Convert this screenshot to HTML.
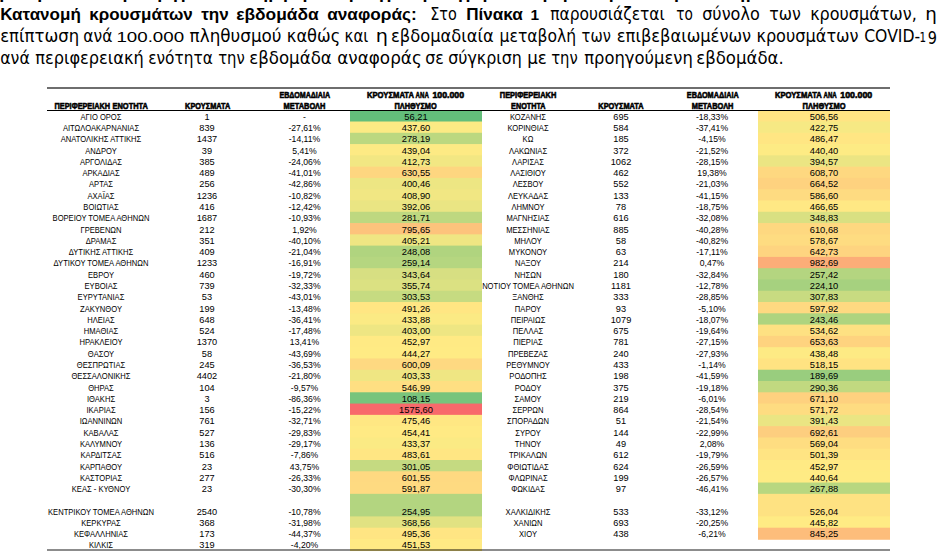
<!DOCTYPE html><html><head><meta charset="utf-8"><style>html,body{margin:0;padding:0;background:#fff;width:950px;height:555px;overflow:hidden}svg{display:block}.p{font-family:"DejaVu Sans","Liberation Sans",sans-serif;font-size:17px;fill:#000}.pb{font-family:"Liberation Sans","DejaVu Sans",sans-serif;font-weight:bold;font-size:17px;fill:#000}.c{font-family:"Liberation Sans",sans-serif;font-size:8.4px;fill:#000;text-anchor:middle}.h{font-family:"Liberation Sans",sans-serif;font-weight:bold;font-size:9.1px;fill:#000;stroke:#000;stroke-width:0.6px}</style></head><body>
<svg width="950" height="555" viewBox="0 0 950 555">
<text class="pb" x="0.20" y="20" textLength="80.60" lengthAdjust="spacingAndGlyphs">Κατανομή</text>
<text class="pb" x="89.20" y="20" textLength="103.60" lengthAdjust="spacingAndGlyphs">κρουσμάτων</text>
<text class="pb" x="201.20" y="20" textLength="27.60" lengthAdjust="spacingAndGlyphs">την</text>
<text class="pb" x="236.20" y="20" textLength="82.60" lengthAdjust="spacingAndGlyphs">εβδομάδα</text>
<text class="pb" x="327.20" y="20" textLength="89.60" lengthAdjust="spacingAndGlyphs">αναφοράς:</text>
<text class="p" x="430.20" y="20" textLength="26.60" lengthAdjust="spacingAndGlyphs">Στο</text>
<text class="pb" x="466.20" y="20" textLength="56.60" lengthAdjust="spacingAndGlyphs">Πίνακα</text>
<text class="pb" style="font-size:14px;font-family:'Liberation Sans',sans-serif" x="530.50" y="20" textLength="8.60" lengthAdjust="spacingAndGlyphs">1</text>
<text class="p" x="550.20" y="20" textLength="114.60" lengthAdjust="spacingAndGlyphs">παρουσιάζεται</text>
<text class="p" x="676.20" y="20" textLength="16.60" lengthAdjust="spacingAndGlyphs">το</text>
<text class="p" x="702.20" y="20" textLength="57.60" lengthAdjust="spacingAndGlyphs">σύνολο</text>
<text class="p" x="769.20" y="20" textLength="31.60" lengthAdjust="spacingAndGlyphs">των</text>
<text class="p" x="810.20" y="20" textLength="106.60" lengthAdjust="spacingAndGlyphs">κρουσμάτων,</text>
<text class="p" x="925.20" y="20" textLength="11.60" lengthAdjust="spacingAndGlyphs">η</text>
<text class="p" x="0.20" y="41.6" textLength="79.00" lengthAdjust="spacingAndGlyphs">επίπτωση</text>
<text class="p" x="83.20" y="41.6" textLength="29.20" lengthAdjust="spacingAndGlyphs">ανά</text>
<text class="p" style="font-size:14px;font-family:'Liberation Sans',sans-serif" x="116.40" y="41.6" textLength="67.70" lengthAdjust="spacingAndGlyphs">100.000</text>
<text class="p" x="189.60" y="41.6" textLength="92.00" lengthAdjust="spacingAndGlyphs">πληθυσμού</text>
<text class="p" x="286.80" y="41.6" textLength="53.40" lengthAdjust="spacingAndGlyphs">καθώς</text>
<text class="p" x="344.60" y="41.6" textLength="23.80" lengthAdjust="spacingAndGlyphs">και</text>
<text class="p" x="375.80" y="41.6" textLength="12.20" lengthAdjust="spacingAndGlyphs">η</text>
<text class="p" x="391.00" y="41.6" textLength="102.80" lengthAdjust="spacingAndGlyphs">εβδομαδιαία</text>
<text class="p" x="499.60" y="41.6" textLength="76.60" lengthAdjust="spacingAndGlyphs">μεταβολή</text>
<text class="p" x="581.60" y="41.6" textLength="29.20" lengthAdjust="spacingAndGlyphs">των</text>
<text class="p" x="616.80" y="41.6" textLength="134.40" lengthAdjust="spacingAndGlyphs">επιβεβαιωμένων</text>
<text class="p" x="756.40" y="41.6" textLength="102.20" lengthAdjust="spacingAndGlyphs">κρουσμάτων</text>
<text class="p" x="864.20" y="41.6" textLength="56.00" lengthAdjust="spacingAndGlyphs">COVID-</text>
<text class="p" x="0.20" y="63.6" textLength="29.60" lengthAdjust="spacingAndGlyphs">ανά</text>
<text class="p" x="35.20" y="63.6" textLength="108.60" lengthAdjust="spacingAndGlyphs">περιφερειακή</text>
<text class="p" x="148.20" y="63.6" textLength="64.60" lengthAdjust="spacingAndGlyphs">ενότητα</text>
<text class="p" x="218.20" y="63.6" textLength="26.60" lengthAdjust="spacingAndGlyphs">την</text>
<text class="p" x="249.20" y="63.6" textLength="82.60" lengthAdjust="spacingAndGlyphs">εβδομάδα</text>
<text class="p" x="337.20" y="63.6" textLength="84.60" lengthAdjust="spacingAndGlyphs">αναφοράς</text>
<text class="p" x="425.20" y="63.6" textLength="18.60" lengthAdjust="spacingAndGlyphs">σε</text>
<text class="p" x="448.20" y="63.6" textLength="73.60" lengthAdjust="spacingAndGlyphs">σύγκριση</text>
<text class="p" x="527.20" y="63.6" textLength="19.60" lengthAdjust="spacingAndGlyphs">με</text>
<text class="p" x="551.20" y="63.6" textLength="26.60" lengthAdjust="spacingAndGlyphs">την</text>
<text class="p" x="584.20" y="63.6" textLength="108.60" lengthAdjust="spacingAndGlyphs">προηγούμενη</text>
<text class="p" x="696.20" y="63.6" textLength="87.60" lengthAdjust="spacingAndGlyphs">εβδομάδα.</text>
<text class="p" style="font-size:13.7px" x="919.6" y="41.6" textLength="6.6" lengthAdjust="spacingAndGlyphs">1</text>
<text class="p" x="927.8" y="43.6" textLength="9.2" lengthAdjust="spacingAndGlyphs">9</text>
<rect x="350" y="110.00" width="132" height="12.30" fill="#63be7b"/>
<rect x="350" y="121.50" width="132" height="12.08" fill="#fcea84"/>
<rect x="350" y="132.78" width="132" height="12.08" fill="#bcd880"/>
<rect x="350" y="144.07" width="132" height="12.08" fill="#fdea84"/>
<rect x="350" y="155.35" width="132" height="12.08" fill="#f2e783"/>
<rect x="350" y="166.63" width="132" height="12.08" fill="#fed680"/>
<rect x="350" y="177.91" width="132" height="12.08" fill="#ede683"/>
<rect x="350" y="189.20" width="132" height="12.08" fill="#f1e783"/>
<rect x="350" y="200.48" width="132" height="12.08" fill="#eae583"/>
<rect x="350" y="211.76" width="132" height="12.08" fill="#bed880"/>
<rect x="350" y="223.05" width="132" height="12.08" fill="#fdc37c"/>
<rect x="350" y="234.33" width="132" height="12.08" fill="#efe683"/>
<rect x="350" y="245.61" width="132" height="12.08" fill="#b0d47f"/>
<rect x="350" y="256.90" width="132" height="12.08" fill="#b5d680"/>
<rect x="350" y="268.18" width="132" height="12.08" fill="#d7df82"/>
<rect x="350" y="279.46" width="132" height="12.08" fill="#dbe182"/>
<rect x="350" y="290.75" width="132" height="12.08" fill="#c6db81"/>
<rect x="350" y="302.03" width="132" height="12.08" fill="#ffe683"/>
<rect x="350" y="313.31" width="132" height="12.08" fill="#fbea84"/>
<rect x="350" y="324.59" width="132" height="12.08" fill="#eee683"/>
<rect x="350" y="335.88" width="132" height="12.08" fill="#ffea84"/>
<rect x="350" y="347.16" width="132" height="12.08" fill="#ffeb84"/>
<rect x="350" y="358.44" width="132" height="12.08" fill="#fed981"/>
<rect x="350" y="369.73" width="132" height="12.08" fill="#efe683"/>
<rect x="350" y="381.01" width="132" height="12.08" fill="#fedf82"/>
<rect x="350" y="392.29" width="132" height="12.08" fill="#78c47c"/>
<rect x="350" y="403.57" width="132" height="12.08" fill="#f8696b"/>
<rect x="350" y="414.86" width="132" height="12.08" fill="#ffe783"/>
<rect x="350" y="426.14" width="132" height="12.08" fill="#ffea84"/>
<rect x="350" y="437.42" width="132" height="12.08" fill="#fbea84"/>
<rect x="350" y="448.71" width="132" height="12.08" fill="#ffe683"/>
<rect x="350" y="459.99" width="132" height="12.08" fill="#c5da81"/>
<rect x="350" y="471.27" width="132" height="12.08" fill="#fed981"/>
<rect x="350" y="482.56" width="132" height="12.08" fill="#feda81"/>
<rect x="350" y="493.84" width="132" height="23.37" fill="#b3d580"/>
<rect x="350" y="516.40" width="132" height="12.08" fill="#e1e282"/>
<rect x="350" y="527.69" width="132" height="12.08" fill="#ffe583"/>
<rect x="350" y="538.97" width="132" height="12.08" fill="#ffea84"/>
<rect x="758" y="110.00" width="132" height="12.30" fill="#ffe483"/>
<rect x="758" y="121.50" width="132" height="12.08" fill="#f6e984"/>
<rect x="758" y="132.78" width="132" height="12.08" fill="#ffe683"/>
<rect x="758" y="144.07" width="132" height="12.08" fill="#fdeb84"/>
<rect x="758" y="155.35" width="132" height="12.08" fill="#ebe583"/>
<rect x="758" y="166.63" width="132" height="12.08" fill="#fed880"/>
<rect x="758" y="177.91" width="132" height="12.08" fill="#fed27f"/>
<rect x="758" y="189.20" width="132" height="12.08" fill="#fedb81"/>
<rect x="758" y="200.48" width="132" height="12.08" fill="#ffe884"/>
<rect x="758" y="211.76" width="132" height="12.08" fill="#d9e082"/>
<rect x="758" y="223.05" width="132" height="12.08" fill="#fed880"/>
<rect x="758" y="234.33" width="132" height="12.08" fill="#fedc81"/>
<rect x="758" y="245.61" width="132" height="12.08" fill="#fed480"/>
<rect x="758" y="256.90" width="132" height="12.08" fill="#fcad78"/>
<rect x="758" y="268.18" width="132" height="12.08" fill="#b4d580"/>
<rect x="758" y="279.46" width="132" height="12.08" fill="#a6d17f"/>
<rect x="758" y="290.75" width="132" height="12.08" fill="#c8db81"/>
<rect x="758" y="302.03" width="132" height="12.08" fill="#fed981"/>
<rect x="758" y="313.31" width="132" height="12.08" fill="#aed47f"/>
<rect x="758" y="324.59" width="132" height="12.08" fill="#fee182"/>
<rect x="758" y="335.88" width="132" height="12.08" fill="#fed37f"/>
<rect x="758" y="347.16" width="132" height="12.08" fill="#fdea84"/>
<rect x="758" y="358.44" width="132" height="12.08" fill="#ffe382"/>
<rect x="758" y="369.73" width="132" height="12.08" fill="#99cd7e"/>
<rect x="758" y="381.01" width="132" height="12.08" fill="#c1d980"/>
<rect x="758" y="392.29" width="132" height="12.08" fill="#fed17f"/>
<rect x="758" y="403.57" width="132" height="12.08" fill="#fedc81"/>
<rect x="758" y="414.86" width="132" height="12.08" fill="#eae583"/>
<rect x="758" y="426.14" width="132" height="12.08" fill="#fdce7f"/>
<rect x="758" y="437.42" width="132" height="12.08" fill="#fedd81"/>
<rect x="758" y="448.71" width="132" height="12.08" fill="#ffe483"/>
<rect x="758" y="459.99" width="132" height="12.08" fill="#ffea84"/>
<rect x="758" y="471.27" width="132" height="12.08" fill="#feeb84"/>
<rect x="758" y="482.56" width="132" height="12.08" fill="#b8d780"/>
<rect x="758" y="493.84" width="132" height="23.37" fill="#fee282"/>
<rect x="758" y="516.40" width="132" height="12.08" fill="#ffeb84"/>
<rect x="758" y="527.69" width="132" height="12.08" fill="#fdbd7b"/>
<text class="c" transform="scale(0.905,1)" x="111.60" y="120.00">ΑΓΙΟ ΟΡΟΣ</text>
<text class="c" transform="scale(1.1,1)" x="188.18" y="120.00">1</text>
<text class="c" transform="scale(1.03,1)" x="295.63" y="120.00">-</text>
<text class="c" transform="scale(1.115,1)" x="373.09" y="120.00">56,21</text>
<text class="c" transform="scale(0.905,1)" x="111.60" y="131.00">ΑΙΤΩΛΟΑΚΑΡΝΑΝΙΑΣ</text>
<text class="c" transform="scale(1.1,1)" x="188.18" y="131.00">839</text>
<text class="c" transform="scale(1.03,1)" x="295.63" y="131.00">-27,61%</text>
<text class="c" transform="scale(1.115,1)" x="373.09" y="131.00">437,60</text>
<text class="c" transform="scale(0.905,1)" x="111.60" y="142.00">ΑΝΑΤΟΛΙΚΗΣ ΑΤΤΙΚΗΣ</text>
<text class="c" transform="scale(1.1,1)" x="188.18" y="142.00">1437</text>
<text class="c" transform="scale(1.03,1)" x="295.63" y="142.00">-14,11%</text>
<text class="c" transform="scale(1.115,1)" x="373.09" y="142.00">278,19</text>
<text class="c" transform="scale(0.905,1)" x="111.60" y="154.00">ΑΝΔΡΟΥ</text>
<text class="c" transform="scale(1.1,1)" x="188.18" y="154.00">39</text>
<text class="c" transform="scale(1.03,1)" x="295.63" y="154.00">5,41%</text>
<text class="c" transform="scale(1.115,1)" x="373.09" y="154.00">439,04</text>
<text class="c" transform="scale(0.905,1)" x="111.60" y="165.00">ΑΡΓΟΛΙΔΑΣ</text>
<text class="c" transform="scale(1.1,1)" x="188.18" y="165.00">385</text>
<text class="c" transform="scale(1.03,1)" x="295.63" y="165.00">-24,06%</text>
<text class="c" transform="scale(1.115,1)" x="373.09" y="165.00">412,73</text>
<text class="c" transform="scale(0.905,1)" x="111.60" y="176.00">ΑΡΚΑΔΙΑΣ</text>
<text class="c" transform="scale(1.1,1)" x="188.18" y="176.00">489</text>
<text class="c" transform="scale(1.03,1)" x="295.63" y="176.00">-41,01%</text>
<text class="c" transform="scale(1.115,1)" x="373.09" y="176.00">630,55</text>
<text class="c" transform="scale(0.905,1)" x="111.60" y="187.00">ΑΡΤΑΣ</text>
<text class="c" transform="scale(1.1,1)" x="188.18" y="187.00">256</text>
<text class="c" transform="scale(1.03,1)" x="295.63" y="187.00">-42,86%</text>
<text class="c" transform="scale(1.115,1)" x="373.09" y="187.00">400,46</text>
<text class="c" transform="scale(0.905,1)" x="111.60" y="199.00">ΑΧΑΪΑΣ</text>
<text class="c" transform="scale(1.1,1)" x="188.18" y="199.00">1236</text>
<text class="c" transform="scale(1.03,1)" x="295.63" y="199.00">-10,82%</text>
<text class="c" transform="scale(1.115,1)" x="373.09" y="199.00">408,90</text>
<text class="c" transform="scale(0.905,1)" x="111.60" y="210.00">ΒΟΙΩΤΙΑΣ</text>
<text class="c" transform="scale(1.1,1)" x="188.18" y="210.00">416</text>
<text class="c" transform="scale(1.03,1)" x="295.63" y="210.00">-12,42%</text>
<text class="c" transform="scale(1.115,1)" x="373.09" y="210.00">392,06</text>
<text class="c" transform="scale(0.905,1)" x="111.60" y="221.00">ΒΟΡΕΙΟΥ ΤΟΜΕΑ ΑΘΗΝΩΝ</text>
<text class="c" transform="scale(1.1,1)" x="188.18" y="221.00">1687</text>
<text class="c" transform="scale(1.03,1)" x="295.63" y="221.00">-10,93%</text>
<text class="c" transform="scale(1.115,1)" x="373.09" y="221.00">281,71</text>
<text class="c" transform="scale(0.905,1)" x="111.60" y="233.00">ΓΡΕΒΕΝΩΝ</text>
<text class="c" transform="scale(1.1,1)" x="188.18" y="233.00">212</text>
<text class="c" transform="scale(1.03,1)" x="295.63" y="233.00">1,92%</text>
<text class="c" transform="scale(1.115,1)" x="373.09" y="233.00">795,65</text>
<text class="c" transform="scale(0.905,1)" x="111.60" y="244.00">ΔΡΑΜΑΣ</text>
<text class="c" transform="scale(1.1,1)" x="188.18" y="244.00">351</text>
<text class="c" transform="scale(1.03,1)" x="295.63" y="244.00">-40,10%</text>
<text class="c" transform="scale(1.115,1)" x="373.09" y="244.00">405,21</text>
<text class="c" transform="scale(0.905,1)" x="111.60" y="255.00">ΔΥΤΙΚΗΣ ΑΤΤΙΚΗΣ</text>
<text class="c" transform="scale(1.1,1)" x="188.18" y="255.00">409</text>
<text class="c" transform="scale(1.03,1)" x="295.63" y="255.00">-21,04%</text>
<text class="c" transform="scale(1.115,1)" x="373.09" y="255.00">248,08</text>
<text class="c" transform="scale(0.905,1)" x="111.60" y="266.00">ΔΥΤΙΚΟΥ ΤΟΜΕΑ ΑΘΗΝΩΝ</text>
<text class="c" transform="scale(1.1,1)" x="188.18" y="266.00">1233</text>
<text class="c" transform="scale(1.03,1)" x="295.63" y="266.00">-16,91%</text>
<text class="c" transform="scale(1.115,1)" x="373.09" y="266.00">259,14</text>
<text class="c" transform="scale(0.905,1)" x="111.60" y="278.00">ΕΒΡΟΥ</text>
<text class="c" transform="scale(1.1,1)" x="188.18" y="278.00">460</text>
<text class="c" transform="scale(1.03,1)" x="295.63" y="278.00">-19,72%</text>
<text class="c" transform="scale(1.115,1)" x="373.09" y="278.00">343,64</text>
<text class="c" transform="scale(0.905,1)" x="111.60" y="289.00">ΕΥΒΟΙΑΣ</text>
<text class="c" transform="scale(1.1,1)" x="188.18" y="289.00">739</text>
<text class="c" transform="scale(1.03,1)" x="295.63" y="289.00">-32,33%</text>
<text class="c" transform="scale(1.115,1)" x="373.09" y="289.00">355,74</text>
<text class="c" transform="scale(0.905,1)" x="111.60" y="300.00">ΕΥΡΥΤΑΝΙΑΣ</text>
<text class="c" transform="scale(1.1,1)" x="188.18" y="300.00">53</text>
<text class="c" transform="scale(1.03,1)" x="295.63" y="300.00">-43,01%</text>
<text class="c" transform="scale(1.115,1)" x="373.09" y="300.00">303,53</text>
<text class="c" transform="scale(0.905,1)" x="111.60" y="312.00">ΖΑΚΥΝΘΟΥ</text>
<text class="c" transform="scale(1.1,1)" x="188.18" y="312.00">199</text>
<text class="c" transform="scale(1.03,1)" x="295.63" y="312.00">-13,48%</text>
<text class="c" transform="scale(1.115,1)" x="373.09" y="312.00">491,26</text>
<text class="c" transform="scale(0.905,1)" x="111.60" y="323.00">ΗΛΕΙΑΣ</text>
<text class="c" transform="scale(1.1,1)" x="188.18" y="323.00">648</text>
<text class="c" transform="scale(1.03,1)" x="295.63" y="323.00">-36,41%</text>
<text class="c" transform="scale(1.115,1)" x="373.09" y="323.00">433,88</text>
<text class="c" transform="scale(0.905,1)" x="111.60" y="334.00">ΗΜΑΘΙΑΣ</text>
<text class="c" transform="scale(1.1,1)" x="188.18" y="334.00">524</text>
<text class="c" transform="scale(1.03,1)" x="295.63" y="334.00">-17,48%</text>
<text class="c" transform="scale(1.115,1)" x="373.09" y="334.00">403,00</text>
<text class="c" transform="scale(0.905,1)" x="111.60" y="345.00">ΗΡΑΚΛΕΙΟΥ</text>
<text class="c" transform="scale(1.1,1)" x="188.18" y="345.00">1370</text>
<text class="c" transform="scale(1.03,1)" x="295.63" y="345.00">13,41%</text>
<text class="c" transform="scale(1.115,1)" x="373.09" y="345.00">452,97</text>
<text class="c" transform="scale(0.905,1)" x="111.60" y="357.00">ΘΑΣΟΥ</text>
<text class="c" transform="scale(1.1,1)" x="188.18" y="357.00">58</text>
<text class="c" transform="scale(1.03,1)" x="295.63" y="357.00">-43,69%</text>
<text class="c" transform="scale(1.115,1)" x="373.09" y="357.00">444,27</text>
<text class="c" transform="scale(0.905,1)" x="111.60" y="368.00">ΘΕΣΠΡΩΤΙΑΣ</text>
<text class="c" transform="scale(1.1,1)" x="188.18" y="368.00">245</text>
<text class="c" transform="scale(1.03,1)" x="295.63" y="368.00">-36,53%</text>
<text class="c" transform="scale(1.115,1)" x="373.09" y="368.00">600,09</text>
<text class="c" transform="scale(0.905,1)" x="111.60" y="379.00">ΘΕΣΣΑΛΟΝΙΚΗΣ</text>
<text class="c" transform="scale(1.1,1)" x="188.18" y="379.00">4402</text>
<text class="c" transform="scale(1.03,1)" x="295.63" y="379.00">-21,80%</text>
<text class="c" transform="scale(1.115,1)" x="373.09" y="379.00">403,33</text>
<text class="c" transform="scale(0.905,1)" x="111.60" y="391.00">ΘΗΡΑΣ</text>
<text class="c" transform="scale(1.1,1)" x="188.18" y="391.00">104</text>
<text class="c" transform="scale(1.03,1)" x="295.63" y="391.00">-9,57%</text>
<text class="c" transform="scale(1.115,1)" x="373.09" y="391.00">546,99</text>
<text class="c" transform="scale(0.905,1)" x="111.60" y="402.00">ΙΘΑΚΗΣ</text>
<text class="c" transform="scale(1.1,1)" x="188.18" y="402.00">3</text>
<text class="c" transform="scale(1.03,1)" x="295.63" y="402.00">-86,36%</text>
<text class="c" transform="scale(1.115,1)" x="373.09" y="402.00">108,15</text>
<text class="c" transform="scale(0.905,1)" x="111.60" y="413.00">ΙΚΑΡΙΑΣ</text>
<text class="c" transform="scale(1.1,1)" x="188.18" y="413.00">156</text>
<text class="c" transform="scale(1.03,1)" x="295.63" y="413.00">-15,22%</text>
<text class="c" transform="scale(1.115,1)" x="373.09" y="413.00">1575,60</text>
<text class="c" transform="scale(0.905,1)" x="111.60" y="424.00">ΙΩΑΝΝΙΝΩΝ</text>
<text class="c" transform="scale(1.1,1)" x="188.18" y="424.00">761</text>
<text class="c" transform="scale(1.03,1)" x="295.63" y="424.00">-32,71%</text>
<text class="c" transform="scale(1.115,1)" x="373.09" y="424.00">475,46</text>
<text class="c" transform="scale(0.905,1)" x="111.60" y="436.00">ΚΑΒΑΛΑΣ</text>
<text class="c" transform="scale(1.1,1)" x="188.18" y="436.00">527</text>
<text class="c" transform="scale(1.03,1)" x="295.63" y="436.00">-29,83%</text>
<text class="c" transform="scale(1.115,1)" x="373.09" y="436.00">454,41</text>
<text class="c" transform="scale(0.905,1)" x="111.60" y="447.00">ΚΑΛΥΜΝΟΥ</text>
<text class="c" transform="scale(1.1,1)" x="188.18" y="447.00">136</text>
<text class="c" transform="scale(1.03,1)" x="295.63" y="447.00">-29,17%</text>
<text class="c" transform="scale(1.115,1)" x="373.09" y="447.00">433,37</text>
<text class="c" transform="scale(0.905,1)" x="111.60" y="458.00">ΚΑΡΔΙΤΣΑΣ</text>
<text class="c" transform="scale(1.1,1)" x="188.18" y="458.00">516</text>
<text class="c" transform="scale(1.03,1)" x="295.63" y="458.00">-7,86%</text>
<text class="c" transform="scale(1.115,1)" x="373.09" y="458.00">483,61</text>
<text class="c" transform="scale(0.905,1)" x="111.60" y="470.00">ΚΑΡΠΑΘΟΥ</text>
<text class="c" transform="scale(1.1,1)" x="188.18" y="470.00">23</text>
<text class="c" transform="scale(1.03,1)" x="295.63" y="470.00">43,75%</text>
<text class="c" transform="scale(1.115,1)" x="373.09" y="470.00">301,05</text>
<text class="c" transform="scale(0.905,1)" x="111.60" y="481.00">ΚΑΣΤΟΡΙΑΣ</text>
<text class="c" transform="scale(1.1,1)" x="188.18" y="481.00">277</text>
<text class="c" transform="scale(1.03,1)" x="295.63" y="481.00">-26,33%</text>
<text class="c" transform="scale(1.115,1)" x="373.09" y="481.00">601,55</text>
<text class="c" transform="scale(0.905,1)" x="111.60" y="492.00">ΚΕΑΣ - ΚΥΘΝΟΥ</text>
<text class="c" transform="scale(1.1,1)" x="188.18" y="492.00">23</text>
<text class="c" transform="scale(1.03,1)" x="295.63" y="492.00">-30,30%</text>
<text class="c" transform="scale(1.115,1)" x="373.09" y="492.00">591,87</text>
<text class="c" transform="scale(0.905,1)" x="111.60" y="515.00">ΚΕΝΤΡΙΚΟΥ ΤΟΜΕΑ ΑΘΗΝΩΝ</text>
<text class="c" transform="scale(1.1,1)" x="188.18" y="515.00">2540</text>
<text class="c" transform="scale(1.03,1)" x="295.63" y="515.00">-10,78%</text>
<text class="c" transform="scale(1.115,1)" x="373.09" y="515.00">254,95</text>
<text class="c" transform="scale(0.905,1)" x="111.60" y="526.00">ΚΕΡΚΥΡΑΣ</text>
<text class="c" transform="scale(1.1,1)" x="188.18" y="526.00">368</text>
<text class="c" transform="scale(1.03,1)" x="295.63" y="526.00">-31,98%</text>
<text class="c" transform="scale(1.115,1)" x="373.09" y="526.00">368,56</text>
<text class="c" transform="scale(0.905,1)" x="111.60" y="537.00">ΚΕΦΑΛΛΗΝΙΑΣ</text>
<text class="c" transform="scale(1.1,1)" x="188.18" y="537.00">173</text>
<text class="c" transform="scale(1.03,1)" x="295.63" y="537.00">-44,37%</text>
<text class="c" transform="scale(1.115,1)" x="373.09" y="537.00">495,36</text>
<text class="c" transform="scale(0.905,1)" x="111.60" y="548.00">ΚΙΛΚΙΣ</text>
<text class="c" transform="scale(1.1,1)" x="188.18" y="548.00">319</text>
<text class="c" transform="scale(1.03,1)" x="295.63" y="548.00">-4,20%</text>
<text class="c" transform="scale(1.115,1)" x="373.09" y="548.00">451,53</text>
<text class="c" transform="scale(0.905,1)" x="583.43" y="120.00">ΚΟΖΑΝΗΣ</text>
<text class="c" transform="scale(1.1,1)" x="564.55" y="120.00">695</text>
<text class="c" transform="scale(1.03,1)" x="691.26" y="120.00">-18,33%</text>
<text class="c" transform="scale(1.115,1)" x="739.01" y="120.00">506,56</text>
<text class="c" transform="scale(0.905,1)" x="583.43" y="131.00">ΚΟΡΙΝΘΙΑΣ</text>
<text class="c" transform="scale(1.1,1)" x="564.55" y="131.00">584</text>
<text class="c" transform="scale(1.03,1)" x="691.26" y="131.00">-37,41%</text>
<text class="c" transform="scale(1.115,1)" x="739.01" y="131.00">422,75</text>
<text class="c" transform="scale(0.905,1)" x="583.43" y="142.00">ΚΩ</text>
<text class="c" transform="scale(1.1,1)" x="564.55" y="142.00">185</text>
<text class="c" transform="scale(1.03,1)" x="691.26" y="142.00">-4,15%</text>
<text class="c" transform="scale(1.115,1)" x="739.01" y="142.00">486,47</text>
<text class="c" transform="scale(0.905,1)" x="583.43" y="154.00">ΛΑΚΩΝΙΑΣ</text>
<text class="c" transform="scale(1.1,1)" x="564.55" y="154.00">372</text>
<text class="c" transform="scale(1.03,1)" x="691.26" y="154.00">-21,52%</text>
<text class="c" transform="scale(1.115,1)" x="739.01" y="154.00">440,40</text>
<text class="c" transform="scale(0.905,1)" x="583.43" y="165.00">ΛΑΡΙΣΑΣ</text>
<text class="c" transform="scale(1.1,1)" x="564.55" y="165.00">1062</text>
<text class="c" transform="scale(1.03,1)" x="691.26" y="165.00">-28,15%</text>
<text class="c" transform="scale(1.115,1)" x="739.01" y="165.00">394,57</text>
<text class="c" transform="scale(0.905,1)" x="583.43" y="176.00">ΛΑΣΙΘΙΟΥ</text>
<text class="c" transform="scale(1.1,1)" x="564.55" y="176.00">462</text>
<text class="c" transform="scale(1.03,1)" x="691.26" y="176.00">19,38%</text>
<text class="c" transform="scale(1.115,1)" x="739.01" y="176.00">608,70</text>
<text class="c" transform="scale(0.905,1)" x="583.43" y="187.00">ΛΕΣΒΟΥ</text>
<text class="c" transform="scale(1.1,1)" x="564.55" y="187.00">552</text>
<text class="c" transform="scale(1.03,1)" x="691.26" y="187.00">-21,03%</text>
<text class="c" transform="scale(1.115,1)" x="739.01" y="187.00">664,52</text>
<text class="c" transform="scale(0.905,1)" x="583.43" y="199.00">ΛΕΥΚΑΔΑΣ</text>
<text class="c" transform="scale(1.1,1)" x="564.55" y="199.00">133</text>
<text class="c" transform="scale(1.03,1)" x="691.26" y="199.00">-41,15%</text>
<text class="c" transform="scale(1.115,1)" x="739.01" y="199.00">586,60</text>
<text class="c" transform="scale(0.905,1)" x="583.43" y="210.00">ΛΗΜΝΟΥ</text>
<text class="c" transform="scale(1.1,1)" x="564.55" y="210.00">78</text>
<text class="c" transform="scale(1.03,1)" x="691.26" y="210.00">-18,75%</text>
<text class="c" transform="scale(1.115,1)" x="739.01" y="210.00">466,65</text>
<text class="c" transform="scale(0.905,1)" x="583.43" y="221.00">ΜΑΓΝΗΣΙΑΣ</text>
<text class="c" transform="scale(1.1,1)" x="564.55" y="221.00">616</text>
<text class="c" transform="scale(1.03,1)" x="691.26" y="221.00">-32,08%</text>
<text class="c" transform="scale(1.115,1)" x="739.01" y="221.00">348,83</text>
<text class="c" transform="scale(0.905,1)" x="583.43" y="233.00">ΜΕΣΣΗΝΙΑΣ</text>
<text class="c" transform="scale(1.1,1)" x="564.55" y="233.00">885</text>
<text class="c" transform="scale(1.03,1)" x="691.26" y="233.00">-40,28%</text>
<text class="c" transform="scale(1.115,1)" x="739.01" y="233.00">610,68</text>
<text class="c" transform="scale(0.905,1)" x="583.43" y="244.00">ΜΗΛΟΥ</text>
<text class="c" transform="scale(1.1,1)" x="564.55" y="244.00">58</text>
<text class="c" transform="scale(1.03,1)" x="691.26" y="244.00">-40,82%</text>
<text class="c" transform="scale(1.115,1)" x="739.01" y="244.00">578,67</text>
<text class="c" transform="scale(0.905,1)" x="583.43" y="255.00">ΜΥΚΟΝΟΥ</text>
<text class="c" transform="scale(1.1,1)" x="564.55" y="255.00">63</text>
<text class="c" transform="scale(1.03,1)" x="691.26" y="255.00">-17,11%</text>
<text class="c" transform="scale(1.115,1)" x="739.01" y="255.00">642,73</text>
<text class="c" transform="scale(0.905,1)" x="583.43" y="266.00">ΝΑΞΟΥ</text>
<text class="c" transform="scale(1.1,1)" x="564.55" y="266.00">214</text>
<text class="c" transform="scale(1.03,1)" x="691.26" y="266.00">0,47%</text>
<text class="c" transform="scale(1.115,1)" x="739.01" y="266.00">982,69</text>
<text class="c" transform="scale(0.905,1)" x="583.43" y="278.00">ΝΗΣΩΝ</text>
<text class="c" transform="scale(1.1,1)" x="564.55" y="278.00">180</text>
<text class="c" transform="scale(1.03,1)" x="691.26" y="278.00">-32,84%</text>
<text class="c" transform="scale(1.115,1)" x="739.01" y="278.00">257,42</text>
<text class="c" transform="scale(0.905,1)" x="583.43" y="289.00">ΝΟΤΙΟΥ ΤΟΜΕΑ ΑΘΗΝΩΝ</text>
<text class="c" transform="scale(1.1,1)" x="564.55" y="289.00">1181</text>
<text class="c" transform="scale(1.03,1)" x="691.26" y="289.00">-12,78%</text>
<text class="c" transform="scale(1.115,1)" x="739.01" y="289.00">224,10</text>
<text class="c" transform="scale(0.905,1)" x="583.43" y="300.00">ΞΑΝΘΗΣ</text>
<text class="c" transform="scale(1.1,1)" x="564.55" y="300.00">333</text>
<text class="c" transform="scale(1.03,1)" x="691.26" y="300.00">-28,85%</text>
<text class="c" transform="scale(1.115,1)" x="739.01" y="300.00">307,83</text>
<text class="c" transform="scale(0.905,1)" x="583.43" y="312.00">ΠΑΡΟΥ</text>
<text class="c" transform="scale(1.1,1)" x="564.55" y="312.00">93</text>
<text class="c" transform="scale(1.03,1)" x="691.26" y="312.00">-5,10%</text>
<text class="c" transform="scale(1.115,1)" x="739.01" y="312.00">597,92</text>
<text class="c" transform="scale(0.905,1)" x="583.43" y="323.00">ΠΕΙΡΑΙΩΣ</text>
<text class="c" transform="scale(1.1,1)" x="564.55" y="323.00">1079</text>
<text class="c" transform="scale(1.03,1)" x="691.26" y="323.00">-18,07%</text>
<text class="c" transform="scale(1.115,1)" x="739.01" y="323.00">243,46</text>
<text class="c" transform="scale(0.905,1)" x="583.43" y="334.00">ΠΕΛΛΑΣ</text>
<text class="c" transform="scale(1.1,1)" x="564.55" y="334.00">675</text>
<text class="c" transform="scale(1.03,1)" x="691.26" y="334.00">-19,64%</text>
<text class="c" transform="scale(1.115,1)" x="739.01" y="334.00">534,62</text>
<text class="c" transform="scale(0.905,1)" x="583.43" y="345.00">ΠΙΕΡΙΑΣ</text>
<text class="c" transform="scale(1.1,1)" x="564.55" y="345.00">781</text>
<text class="c" transform="scale(1.03,1)" x="691.26" y="345.00">-27,15%</text>
<text class="c" transform="scale(1.115,1)" x="739.01" y="345.00">653,63</text>
<text class="c" transform="scale(0.905,1)" x="583.43" y="357.00">ΠΡΕΒΕΖΑΣ</text>
<text class="c" transform="scale(1.1,1)" x="564.55" y="357.00">240</text>
<text class="c" transform="scale(1.03,1)" x="691.26" y="357.00">-27,93%</text>
<text class="c" transform="scale(1.115,1)" x="739.01" y="357.00">438,48</text>
<text class="c" transform="scale(0.905,1)" x="583.43" y="368.00">ΡΕΘΥΜΝΟΥ</text>
<text class="c" transform="scale(1.1,1)" x="564.55" y="368.00">433</text>
<text class="c" transform="scale(1.03,1)" x="691.26" y="368.00">-1,14%</text>
<text class="c" transform="scale(1.115,1)" x="739.01" y="368.00">518,15</text>
<text class="c" transform="scale(0.905,1)" x="583.43" y="379.00">ΡΟΔΟΠΗΣ</text>
<text class="c" transform="scale(1.1,1)" x="564.55" y="379.00">198</text>
<text class="c" transform="scale(1.03,1)" x="691.26" y="379.00">-41,59%</text>
<text class="c" transform="scale(1.115,1)" x="739.01" y="379.00">189,69</text>
<text class="c" transform="scale(0.905,1)" x="583.43" y="391.00">ΡΟΔΟΥ</text>
<text class="c" transform="scale(1.1,1)" x="564.55" y="391.00">375</text>
<text class="c" transform="scale(1.03,1)" x="691.26" y="391.00">-19,18%</text>
<text class="c" transform="scale(1.115,1)" x="739.01" y="391.00">290,36</text>
<text class="c" transform="scale(0.905,1)" x="583.43" y="402.00">ΣΑΜΟΥ</text>
<text class="c" transform="scale(1.1,1)" x="564.55" y="402.00">219</text>
<text class="c" transform="scale(1.03,1)" x="691.26" y="402.00">-6,01%</text>
<text class="c" transform="scale(1.115,1)" x="739.01" y="402.00">671,10</text>
<text class="c" transform="scale(0.905,1)" x="583.43" y="413.00">ΣΕΡΡΩΝ</text>
<text class="c" transform="scale(1.1,1)" x="564.55" y="413.00">864</text>
<text class="c" transform="scale(1.03,1)" x="691.26" y="413.00">-28,54%</text>
<text class="c" transform="scale(1.115,1)" x="739.01" y="413.00">571,72</text>
<text class="c" transform="scale(0.905,1)" x="583.43" y="424.00">ΣΠΟΡΑΔΩΝ</text>
<text class="c" transform="scale(1.1,1)" x="564.55" y="424.00">51</text>
<text class="c" transform="scale(1.03,1)" x="691.26" y="424.00">-21,54%</text>
<text class="c" transform="scale(1.115,1)" x="739.01" y="424.00">391,43</text>
<text class="c" transform="scale(0.905,1)" x="583.43" y="436.00">ΣΥΡΟΥ</text>
<text class="c" transform="scale(1.1,1)" x="564.55" y="436.00">144</text>
<text class="c" transform="scale(1.03,1)" x="691.26" y="436.00">-22,99%</text>
<text class="c" transform="scale(1.115,1)" x="739.01" y="436.00">692,61</text>
<text class="c" transform="scale(0.905,1)" x="583.43" y="447.00">ΤΗΝΟΥ</text>
<text class="c" transform="scale(1.1,1)" x="564.55" y="447.00">49</text>
<text class="c" transform="scale(1.03,1)" x="691.26" y="447.00">2,08%</text>
<text class="c" transform="scale(1.115,1)" x="739.01" y="447.00">569,04</text>
<text class="c" transform="scale(0.905,1)" x="583.43" y="458.00">ΤΡΙΚΑΛΩΝ</text>
<text class="c" transform="scale(1.1,1)" x="564.55" y="458.00">612</text>
<text class="c" transform="scale(1.03,1)" x="691.26" y="458.00">-19,79%</text>
<text class="c" transform="scale(1.115,1)" x="739.01" y="458.00">501,39</text>
<text class="c" transform="scale(0.905,1)" x="583.43" y="470.00">ΦΘΙΩΤΙΔΑΣ</text>
<text class="c" transform="scale(1.1,1)" x="564.55" y="470.00">624</text>
<text class="c" transform="scale(1.03,1)" x="691.26" y="470.00">-26,59%</text>
<text class="c" transform="scale(1.115,1)" x="739.01" y="470.00">452,97</text>
<text class="c" transform="scale(0.905,1)" x="583.43" y="481.00">ΦΛΩΡΙΝΑΣ</text>
<text class="c" transform="scale(1.1,1)" x="564.55" y="481.00">199</text>
<text class="c" transform="scale(1.03,1)" x="691.26" y="481.00">-26,57%</text>
<text class="c" transform="scale(1.115,1)" x="739.01" y="481.00">440,64</text>
<text class="c" transform="scale(0.905,1)" x="583.43" y="492.00">ΦΩΚΙΔΑΣ</text>
<text class="c" transform="scale(1.1,1)" x="564.55" y="492.00">97</text>
<text class="c" transform="scale(1.03,1)" x="691.26" y="492.00">-46,41%</text>
<text class="c" transform="scale(1.115,1)" x="739.01" y="492.00">267,88</text>
<text class="c" transform="scale(0.905,1)" x="583.43" y="515.00">ΧΑΛΚΙΔΙΚΗΣ</text>
<text class="c" transform="scale(1.1,1)" x="564.55" y="515.00">533</text>
<text class="c" transform="scale(1.03,1)" x="691.26" y="515.00">-33,12%</text>
<text class="c" transform="scale(1.115,1)" x="739.01" y="515.00">526,04</text>
<text class="c" transform="scale(0.905,1)" x="583.43" y="526.00">ΧΑΝΙΩΝ</text>
<text class="c" transform="scale(1.1,1)" x="564.55" y="526.00">693</text>
<text class="c" transform="scale(1.03,1)" x="691.26" y="526.00">-20,25%</text>
<text class="c" transform="scale(1.115,1)" x="739.01" y="526.00">445,82</text>
<text class="c" transform="scale(0.905,1)" x="583.43" y="537.00">ΧΙΟΥ</text>
<text class="c" transform="scale(1.1,1)" x="564.55" y="537.00">438</text>
<text class="c" transform="scale(1.03,1)" x="691.26" y="537.00">-6,21%</text>
<text class="c" transform="scale(1.115,1)" x="739.01" y="537.00">845,25</text>
<rect x="47" y="87" width="843" height="2" fill="#000" fill-opacity="0.57"/>
<rect x="47" y="110" width="843" height="1" fill="#000"/>
<rect x="47" y="549" width="843" height="2" fill="#000" fill-opacity="0.45"/>
<text class="h" x="54.6" y="108.5" textLength="55.5" lengthAdjust="spacingAndGlyphs">ΠΕΡΙΦΕΡΕΙΑΚΗ</text>
<text class="h" x="112.5" y="108.5" textLength="35.5" lengthAdjust="spacingAndGlyphs">ΕΝΟΤΗΤΑ</text>
<text class="h" x="185.1" y="108.5" textLength="45.1" lengthAdjust="spacingAndGlyphs">ΚΡΟΥΣΜΑΤΑ</text>
<text class="h" x="279.4" y="98" textLength="50.7" lengthAdjust="spacingAndGlyphs">ΕΒΔΟΜΑΔΙΑΙΑ</text>
<text class="h" x="283.6" y="108.5" textLength="41.8" lengthAdjust="spacingAndGlyphs">ΜΕΤΑΒΟΛΗ</text>
<text class="h" x="367.0" y="98" textLength="46.9" lengthAdjust="spacingAndGlyphs">ΚΡΟΥΣΜΑΤΑ</text>
<text class="h" x="415.6" y="98" textLength="13.2" lengthAdjust="spacingAndGlyphs">ΑΝΑ</text>
<text class="h" x="432.4" y="98" textLength="31.7" lengthAdjust="spacingAndGlyphs">100.000</text>
<text class="h" x="394.4" y="108.5" textLength="42.3" lengthAdjust="spacingAndGlyphs">ΠΛΗΘΥΣΜΟ</text>
<text class="h" x="499.8" y="98" textLength="56.5" lengthAdjust="spacingAndGlyphs">ΠΕΡΙΦΕΡΕΙΑΚΗ</text>
<text class="h" x="511.1" y="108.5" textLength="34.4" lengthAdjust="spacingAndGlyphs">ΕΝΟΤΗΤΑ</text>
<text class="h" x="598.3" y="108.5" textLength="45.3" lengthAdjust="spacingAndGlyphs">ΚΡΟΥΣΜΑΤΑ</text>
<text class="h" x="686.8" y="98" textLength="51.9" lengthAdjust="spacingAndGlyphs">ΕΒΔΟΜΑΔΙΑΙΑ</text>
<text class="h" x="691.7" y="108.5" textLength="41.8" lengthAdjust="spacingAndGlyphs">ΜΕΤΑΒΟΛΗ</text>
<text class="h" x="774.9" y="98" textLength="46.9" lengthAdjust="spacingAndGlyphs">ΚΡΟΥΣΜΑΤΑ</text>
<text class="h" x="823.5" y="98" textLength="13.2" lengthAdjust="spacingAndGlyphs">ΑΝΑ</text>
<text class="h" x="840.3" y="98" textLength="31.9" lengthAdjust="spacingAndGlyphs">100.000</text>
<text class="h" x="802.6" y="108.5" textLength="43.1" lengthAdjust="spacingAndGlyphs">ΠΛΗΘΥΣΜΟ</text>
<text class="pb" x="-0.4" y="-1.5">ρ</text>
<text class="pb" x="37.5" y="-1.5">ρ</text>
<text class="pb" x="122.8" y="-1.5">ρ</text>
<text class="pb" x="157.5" y="-1.5">ρ</text>
<text class="pb" x="173.3" y="-1.5">ρ</text>
<text class="pb" x="180.9" y="-1.5">ρ</text>
<text class="pb" x="263.6" y="-1.5">ρ</text>
<text class="pb" x="268.5" y="-1.5">ρ</text>
<text class="pb" x="283.2" y="-1.5">ρ</text>
<text class="pb" x="302.8" y="-1.5">ρ</text>
<text class="pb" x="348.9" y="-1.5">ρ</text>
<text class="pb" x="379.2" y="-1.5">ρ</text>
<text class="pb" x="386.8" y="-1.5">ρ</text>
<text class="pb" x="422.8" y="-1.5">ρ</text>
<text class="pb" x="458.2" y="-1.5">ρ</text>
<text class="pb" x="465.7" y="-1.5">ρ</text>
<text class="pb" x="482.8" y="-1.5">ρ</text>
<text class="pb" x="542.8" y="-1.5">ρ</text>
<text class="pb" x="563.0" y="-1.5">ρ</text>
<text class="pb" x="609.0" y="-1.5">ρ</text>
<text class="pb" x="674.2" y="-1.5">ρ</text>
<text class="pb" x="740.5" y="-1.5">ρ</text>
<text class="pb" x="746.0" y="-1.5">ρ</text>
</svg></body></html>
